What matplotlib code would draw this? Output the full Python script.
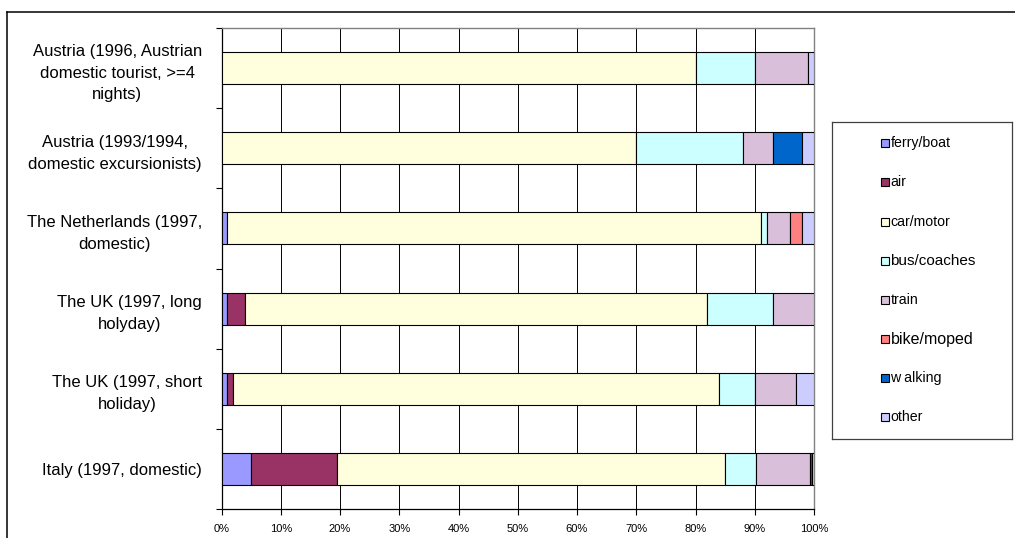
import matplotlib
matplotlib.use("Agg")
import matplotlib.pyplot as plt
from matplotlib.patches import Rectangle
from matplotlib.lines import Line2D
from matplotlib.ticker import FixedLocator, PercentFormatter
import numpy as np

plt.rcParams['font.family'] = ['Liberation Sans', 'DejaVu Sans']

# surveys, top to bottom
surveys = ["Austria (1996, Austrian\ndomestic tourist, >=4\nnights)",
           "Austria (1993/1994,\ndomestic excursionists)",
           "The Netherlands (1997,\ndomestic)",
           "The UK (1997, long\nholyday)",
           "The UK (1997, short\nholiday)",
           "Italy (1997, domestic)"]

modes = ["ferry/boat", "air", "car/motor", "bus/coaches", "train",
         "bike/moped", "w alking", "other"]

# modal split, percent of trips
ferry = [0, 0, 1, 1, 1, 4.9]
air = [0, 0, 0, 3, 1, 14.6]
car = [80, 70, 90, 78, 82, 65.4]
bus = [10, 18, 1, 11, 6, 5.3]
train = [9, 5, 4, 7, 7, 9.2]
bike = [0, 0, 2, 0, 0, 0]
walking = [0, 5, 0, 0, 0, 0.2]
other = [1, 2, 2, 0, 3, 0.4]

colors = ["#9999FF", "#993366", "#FFFFDD", "#CCFFFF", "#D9BFD9",
          "#FF8080", "#0066CC", "#CCCCFF"]
legend_sizes = [10.2, 10.2, 10.2, 11, 10.2, 11.5, 10.2, 10.2]

series = [ferry, air, car, bus, train, bike, walking, other]

fig = plt.figure(figsize=(10.15, 5.38), dpi=100)
ax = fig.add_axes([221.5/1015, 29.3/538, 592.5/1015, 480.4/538])

y = np.arange(len(surveys))
left = np.zeros(len(surveys))
for vals, c, name in zip(series, colors, modes):
    vals = np.array(vals, dtype=float)
    lw = [0.8 if v > 0 else 0 for v in vals]
    ax.barh(y, vals, left=left, height=0.4, color=c, edgecolor="black",
            linewidth=lw, label=name, zorder=3)
    left += vals

ax.set_xlim(0, 100)
ax.set_ylim(len(surveys) - 0.5, -0.5)
ax.set_xticks(np.arange(0, 101, 10))
ax.xaxis.set_major_formatter(PercentFormatter(decimals=0))
ax.tick_params(axis='x', direction='out', length=4, width=0.8, pad=7,
               labelsize=8)
ax.xaxis.grid(True, color="black", linewidth=0.7, zorder=0)
ax.set_axisbelow(True)

# category boundaries get the ticks, names sit between them
ax.yaxis.set_major_locator(FixedLocator(np.arange(-0.5, len(surveys), 1)))
ax.yaxis.set_minor_locator(FixedLocator(y))
ax.set_yticklabels([], minor=False)
ax.set_yticklabels(surveys, minor=True, fontsize=12)
ax.tick_params(axis='y', which='major', direction='out', length=4, width=0.8)
ax.tick_params(axis='y', which='minor', length=0, pad=14)
for lab in ax.get_yticklabels(minor=True):
    lab.set_multialignment('center')
    lab.set_linespacing(1.55)

for s in ['top', 'right']:
    ax.spines[s].set_color("#808080")
    ax.spines[s].set_linewidth(1.0)
for s in ['left', 'bottom']:
    ax.spines[s].set_color("black")
    ax.spines[s].set_linewidth(0.9)

# legend box
lax = fig.add_axes([832/1015, (538 - 438.7)/538, 180/1015, 317/538])
lax.set_xlim(0, 180)
lax.set_ylim(317, 0)
lax.set_xticks([])
lax.set_yticks([])
for s in lax.spines.values():
    s.set_color("#404040")
    s.set_linewidth(0.9)
for i, (name, c, fs) in enumerate(zip(modes, colors, legend_sizes)):
    yc = 21.6 + 39.15 * i
    lax.add_patch(Rectangle((48.5, yc - 4), 8, 8, facecolor=c,
                            edgecolor="black", linewidth=0.8))
    lax.text(58.5, yc, name, fontsize=fs, va='center', ha='left')

# outer chart frame
fig.add_artist(Line2D([7/1015, 7/1015], [0, 1 - 12/538], color="black",
                      linewidth=1.1, transform=fig.transFigure))
fig.add_artist(Line2D([7/1015, 1], [1 - 12/538, 1 - 12/538], color="black",
                      linewidth=1.1, transform=fig.transFigure))

fig.savefig("out.png", dpi=100)
